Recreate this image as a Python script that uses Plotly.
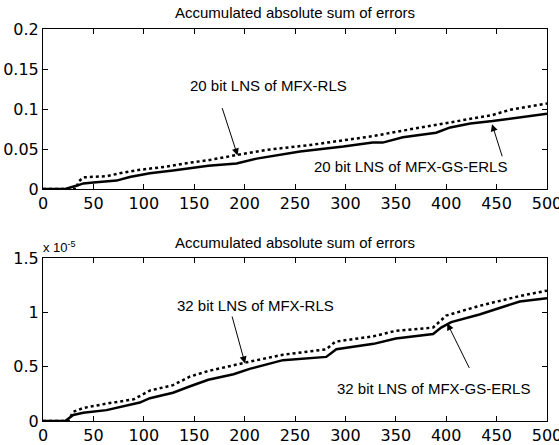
import plotly.graph_objects as go

# Top panel (20 bit)
top_x_erls = [0, 22, 33, 40, 50, 73, 86, 106, 129, 149, 164, 192, 212, 255, 298, 327, 337, 357, 390, 404, 424, 446, 473, 500]
top_y_erls = [0, 0, 0.004, 0.007, 0.008, 0.0105, 0.015, 0.0196, 0.023, 0.026, 0.029, 0.032, 0.038, 0.047, 0.053, 0.058, 0.058, 0.0646, 0.0704, 0.077, 0.082, 0.085, 0.0896, 0.094]
top_x_rls = [0, 33, 35, 40, 63, 76, 96, 123, 146, 164, 192, 222, 265, 298, 327, 357, 390, 410, 446, 463, 500]
top_y_rls = [0, 0, 0.009, 0.0146, 0.016, 0.0196, 0.024, 0.028, 0.033, 0.036, 0.0425, 0.049, 0.055, 0.061, 0.066, 0.073, 0.080, 0.085, 0.0925, 0.099, 0.107]

# Bottom panel (32 bit), values in units of 1e-5
bot_x_erls = [0, 22, 30, 40, 63, 76, 96, 106, 129, 146, 164, 189, 205, 238, 281, 291, 328, 350, 387, 395, 405, 433, 473, 500]
bot_y_erls = [0, 0, 0.055, 0.076, 0.10, 0.13, 0.17, 0.21, 0.26, 0.32, 0.38, 0.43, 0.48, 0.56, 0.59, 0.66, 0.71, 0.76, 0.80, 0.86, 0.91, 0.98, 1.10, 1.13]
bot_x_rls = [0, 25, 30, 40, 63, 90, 106, 129, 146, 164, 202, 238, 281, 290, 328, 350, 387, 400, 433, 473, 500]
bot_y_rls = [0, 0, 0.085, 0.12, 0.16, 0.2, 0.28, 0.33, 0.41, 0.46, 0.54, 0.61, 0.66, 0.73, 0.78, 0.83, 0.86, 0.97, 1.06, 1.15, 1.2]

x_ticks = [0, 50, 100, 150, 200, 250, 300, 350, 400, 450, 500]
top_y_ticks = [0, 0.05, 0.1, 0.15, 0.2]
top_y_labels = ["0", "0.05", "0.1", "0.15", "0.2"]
bot_y_ticks = [0, 0.5, 1, 1.5]
bot_y_labels = ["0", "0.5", "1", "1.5"]
title_text = "Accumulated absolute sum of errors"

FONT = "Arial, Liberation Sans, sans-serif"
TICKFONT = "DejaVu Sans, sans-serif"

fig = go.Figure()
fig.add_trace(go.Scatter(x=top_x_rls, y=top_y_rls, mode="lines",
                         line=dict(color="black", width=2.5, dash="dot"), xaxis="x", yaxis="y"))
fig.add_trace(go.Scatter(x=top_x_erls, y=top_y_erls, mode="lines",
                         line=dict(color="black", width=2.5), xaxis="x", yaxis="y"))
fig.add_trace(go.Scatter(x=bot_x_rls, y=bot_y_rls, mode="lines",
                         line=dict(color="black", width=2.5, dash="dot"), xaxis="x2", yaxis="y2"))
fig.add_trace(go.Scatter(x=bot_x_erls, y=bot_y_erls, mode="lines",
                         line=dict(color="black", width=2.5), xaxis="x2", yaxis="y2"))

axis_common = dict(showline=True, linecolor="black", linewidth=1, mirror="ticks",
                   ticks="inside", ticklen=5, tickcolor="black", showgrid=False,
                   zeroline=False, automargin=False, ticklabeloverflow="allow",
                   tickfont=dict(family=TICKFONT, size=16, color="black"))

fig.update_layout(
    width=559, height=445,
    margin=dict(l=43, r=12, t=29, b=24),
    paper_bgcolor="white", plot_bgcolor="white",
    showlegend=False,
    xaxis=dict(domain=[0, 1], range=[0, 500], tickvals=x_ticks, anchor="y", **axis_common),
    yaxis=dict(domain=[0.5918, 1], range=[0, 0.2], tickvals=top_y_ticks, ticktext=top_y_labels,
               anchor="x", **axis_common),
    xaxis2=dict(domain=[0, 1], range=[0, 500], tickvals=x_ticks, anchor="y2", **axis_common),
    yaxis2=dict(domain=[0, 0.4158], range=[0, 1.5], tickvals=bot_y_ticks, ticktext=bot_y_labels,
                anchor="x2", **axis_common),
)

ann_font = dict(family=FONT, size=15, color="black")
title_font = dict(family=FONT, size=15, color="black")
annotations = [
    dict(text=title_text, x=0.5, y=1, xref="paper", yref="paper", xanchor="center", yanchor="bottom",
         yshift=6, showarrow=False, font=title_font),
    dict(text=title_text, x=0.5, y=0.4158, xref="paper", yref="paper", xanchor="center", yanchor="bottom",
         yshift=5, showarrow=False, font=title_font),
    dict(text="x 10<sup>-5</sup>", x=0, y=0.4158, xref="paper", yref="paper", xanchor="left",
         yanchor="bottom", xshift=-2, yshift=1, showarrow=False, font=dict(family=FONT, size=13, color="black")),
    # top arrows
    dict(text="", x=193, y=0.042, ax=177.3, ay=0.103, xref="x", yref="y", axref="x", ayref="y",
         showarrow=True, arrowhead=2, arrowsize=1.4, arrowwidth=1, arrowcolor="black"),
    dict(text="20 bit LNS of MFX-RLS", x=224, y=0.129, xref="x", yref="y", showarrow=False, font=ann_font),
    dict(text="", x=445.5, y=0.081, ax=456, ay=0.039, xref="x", yref="y", axref="x", ayref="y",
         showarrow=True, arrowhead=2, arrowsize=1.4, arrowwidth=1, arrowcolor="black"),
    dict(text="20 bit LNS of MFX-GS-ERLS", x=365, y=0.028, xref="x", yref="y", showarrow=False, font=ann_font),
    # bottom arrows
    dict(text="", x=200.4, y=0.53, ax=187.2, ay=0.975, xref="x2", yref="y2", axref="x2", ayref="y2",
         showarrow=True, arrowhead=2, arrowsize=1.4, arrowwidth=1, arrowcolor="black"),
    dict(text="32 bit LNS of MFX-RLS", x=211, y=1.067, xref="x2", yref="y2", showarrow=False, font=ann_font),
    dict(text="", x=401, y=0.9, ax=423.6, ay=0.475, xref="x2", yref="y2", axref="x2", ayref="y2",
         showarrow=True, arrowhead=2, arrowsize=1.4, arrowwidth=1, arrowcolor="black"),
    dict(text="32 bit LNS of MFX-GS-ERLS", x=387, y=0.30, xref="x2", yref="y2", showarrow=False, font=ann_font),
]
fig.update_layout(annotations=annotations)

fig.write_html("out.html", config={"displayModeBar": False},
               post_script="document.body.style.margin='0';document.body.style.overflow='hidden';")
